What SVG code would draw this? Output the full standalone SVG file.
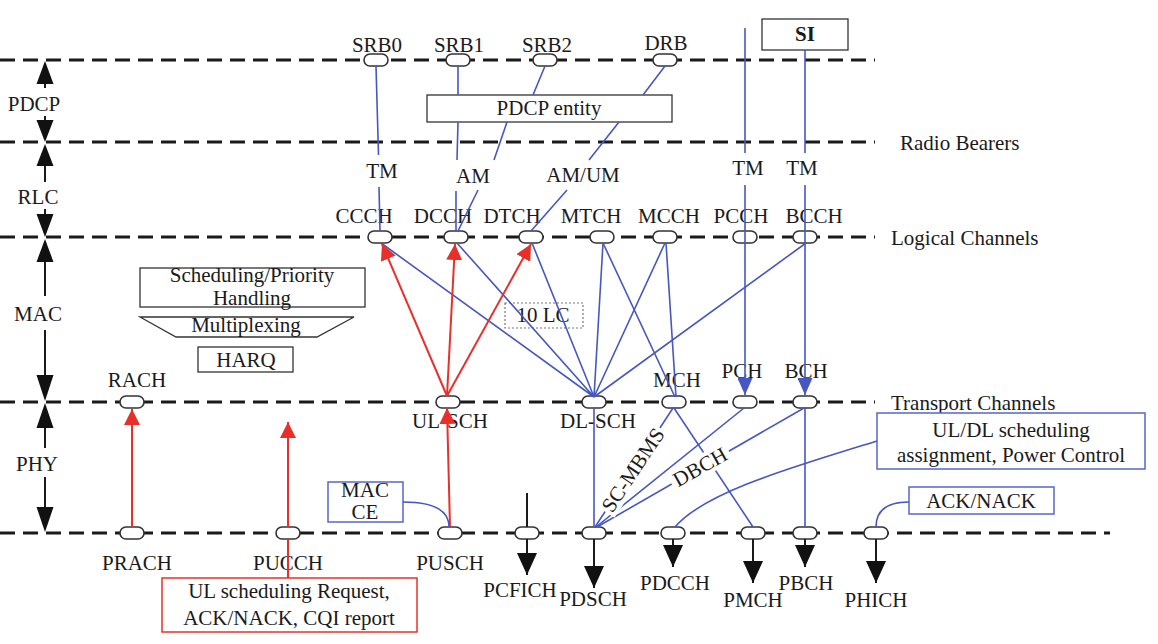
<svg xmlns="http://www.w3.org/2000/svg" width="1158" height="644" viewBox="0 0 1158 644">
<style>
text { font-family: "Liberation Serif", "Times New Roman", "DejaVu Serif", serif; font-size: 21px; fill: #1a1a1a; }
.c { text-anchor: middle; }
.lay { stroke: #1a1a1a; stroke-width: 3; stroke-dasharray: 15 8; fill: none; }
.pill { fill: #fff; stroke: #333; stroke-width: 1.6; }
.bl { stroke: #4657c0; stroke-width: 1.6; fill: none; }
.rd { stroke: #e8302a; stroke-width: 2; fill: none; }
.bk { stroke: #1a1a1a; stroke-width: 2; fill: none; }
.box { fill: #fff; stroke: #333; stroke-width: 1.3; }
.bbox { fill: #fff; stroke: #5566c8; stroke-width: 1.5; }
.rbox { fill: #fff; stroke: #e8302a; stroke-width: 1.5; }
.tri { fill: #111; }
</style>
<defs>
<marker id="mr" viewBox="0 0 16 16" refX="16" refY="8" markerWidth="16" markerHeight="16" orient="auto" markerUnits="userSpaceOnUse"><path d="M0,0 L16,8 L0,16 z" fill="#e8302a"/></marker>
<marker id="mb" viewBox="0 0 17 15" refX="17" refY="7.5" markerWidth="17" markerHeight="15" orient="auto" markerUnits="userSpaceOnUse"><path d="M0,0 L17,7.5 L0,15 z" fill="#4657c0"/></marker>
<marker id="mk" viewBox="0 0 22 20" refX="22" refY="10" markerWidth="22" markerHeight="20" orient="auto" markerUnits="userSpaceOnUse"><path d="M0,0 L22,10 L0,20 z" fill="#111"/></marker>
</defs>
<rect width="1158" height="644" fill="#fff"/>

<g id="layers">
<line class="lay" x1="0" y1="60" x2="875" y2="60"/>
<line class="lay" x1="0" y1="142" x2="875" y2="142"/>
<line class="lay" x1="0" y1="237" x2="875" y2="237"/>
<line class="lay" x1="0" y1="402" x2="875" y2="402"/>
<line class="lay" x1="0" y1="533" x2="1110" y2="533"/>
<text x="900" y="150">Radio Bearers</text>
<text x="891" y="245">Logical Channels</text>
<text x="891" y="410">Transport Channels</text>
</g>

<g id="layer-arrows">
<polygon class="tri" points="45,61 36.5,84 53.5,84"/><line class="bk" x1="45" y1="84" x2="45" y2="88"/>
<text class="c" x="34" y="111">PDCP</text>
<line class="bk" x1="45" y1="116" x2="45" y2="120"/><polygon class="tri" points="45,142 36.5,120 53.5,120"/>
<polygon class="tri" points="45,144 36.5,166 53.5,166"/><line class="bk" x1="45" y1="166" x2="45" y2="182"/>
<text class="c" x="38" y="204">RLC</text>
<line class="bk" x1="45" y1="209" x2="45" y2="214"/><polygon class="tri" points="45,237 36.5,214 53.5,214"/>
<polygon class="tri" points="45,239 36.5,262 53.5,262"/><line class="bk" x1="45" y1="262" x2="45" y2="296"/>
<text class="c" x="38" y="321">MAC</text>
<line class="bk" x1="45" y1="330" x2="45" y2="375"/><polygon class="tri" points="45,401 36.5,375 53.5,375"/>
<polygon class="tri" points="45,403 36.5,428 53.5,428"/><line class="bk" x1="45" y1="428" x2="45" y2="448"/>
<text class="c" x="37" y="471">PHY</text>
<line class="bk" x1="45" y1="477" x2="45" y2="507"/><polygon class="tri" points="45,532 36.5,507 53.5,507"/>
</g>

<g id="mac-functions">
<rect class="box" x="140" y="268" width="225" height="39"/>
<text class="c" x="252" y="282" font-size="19">Scheduling/Priority</text>
<text class="c" x="252" y="305" font-size="19">Handling</text>
<polygon class="box" points="140,317 354,317 317,337 176,337"/>
<text class="c" x="246" y="332">Multiplexing</text>
<rect class="box" x="198" y="347" width="95" height="25"/>
<text class="c" x="246" y="367">HARQ</text>
</g>

<g id="pdcp-entity">
<rect class="box" x="427" y="95" width="245" height="27"/>
<text class="c" x="549" y="115">PDCP entity</text>
</g>
<g id="si">
<rect class="box" x="762" y="19" width="86" height="31"/>
<text class="c" x="805" y="41" font-weight="bold">SI</text>
</g>
<g id="lc10">
<rect x="505" y="303" width="78" height="25" fill="none" stroke="#777" stroke-width="1.2" stroke-dasharray="2 2"/>
<text class="c" x="543" y="322">10 LC</text>
</g>

<g id="radio-bearers">
<g id="SRB0"><rect class="pill" x="364" y="54" width="24" height="12" rx="6"/><text class="c" x="377" y="52">SRB0</text></g>
<g id="SRB1"><rect class="pill" x="446" y="54" width="24" height="12" rx="6"/><text class="c" x="459" y="52">SRB1</text></g>
<g id="SRB2"><rect class="pill" x="533" y="54" width="24" height="12" rx="6"/><text class="c" x="547" y="52">SRB2</text></g>
<g id="DRB"><rect class="pill" x="653" y="54" width="24" height="12" rx="6"/><text class="c" x="666" y="50">DRB</text></g>
</g>

<g id="rlc-modes">
<text class="c" x="382" y="178">TM</text>
<text class="c" x="473" y="183">AM</text>
<text class="c" x="583" y="182">AM/UM</text>
<text class="c" x="748" y="175">TM</text>
<text class="c" x="802" y="175">TM</text>
</g>

<g id="logical-channels">
<g id="CCCH"><rect class="pill" x="368" y="231" width="24" height="12" rx="6"/><text class="c" x="364" y="223">CCCH</text></g>
<g id="DCCH"><rect class="pill" x="444" y="231" width="24" height="12" rx="6"/><text class="c" x="443" y="223">DCCH</text></g>
<g id="DTCH"><rect class="pill" x="519" y="231" width="24" height="12" rx="6"/><text class="c" x="512" y="223">DTCH</text></g>
<g id="MTCH"><rect class="pill" x="590" y="231" width="24" height="12" rx="6"/><text class="c" x="591" y="223">MTCH</text></g>
<g id="MCCH"><rect class="pill" x="653" y="231" width="24" height="12" rx="6"/><text class="c" x="669" y="223">MCCH</text></g>
<g id="PCCH"><rect class="pill" x="733" y="231" width="24" height="12" rx="6"/><text class="c" x="741" y="223">PCCH</text></g>
<g id="BCCH"><rect class="pill" x="793" y="231" width="24" height="12" rx="6"/><text class="c" x="814" y="223">BCCH</text></g>
</g>

<g id="transport-channels">
<g id="RACH"><rect class="pill" x="120" y="396" width="24" height="12" rx="6"/><text class="c" x="137" y="387">RACH</text></g>
<g id="UL-SCH"><rect class="pill" x="436" y="396" width="24" height="12" rx="6"/><text class="c" x="450" y="428">UL-SCH</text></g>
<g id="DL-SCH"><rect class="pill" x="582" y="396" width="24" height="12" rx="6"/><text class="c" x="598" y="428">DL-SCH</text></g>
<g id="MCH"><rect class="pill" x="662" y="396" width="24" height="12" rx="6"/><text class="c" x="677" y="387">MCH</text></g>
<g id="PCH"><rect class="pill" x="733" y="396" width="24" height="12" rx="6"/><text class="c" x="742" y="378">PCH</text></g>
<g id="BCH"><rect class="pill" x="793" y="396" width="24" height="12" rx="6"/><text class="c" x="806" y="378">BCH</text></g>
</g>

<g id="physical-channels">
<g id="PRACH"><rect class="pill" x="120" y="527" width="24" height="12" rx="6"/><text class="c" x="137" y="570">PRACH</text></g>
<g id="PUCCH"><rect class="pill" x="276" y="527" width="24" height="12" rx="6"/><text class="c" x="288" y="570">PUCCH</text></g>
<g id="PUSCH"><rect class="pill" x="438" y="527" width="24" height="12" rx="6"/><text class="c" x="450" y="570">PUSCH</text></g>
<g id="PCFICH"><rect class="pill" x="515" y="527" width="24" height="12" rx="6"/><text class="c" x="520" y="597">PCFICH</text></g>
<g id="PDSCH"><rect class="pill" x="582" y="527" width="24" height="12" rx="6"/><text class="c" x="593" y="606">PDSCH</text></g>
<g id="PDCCH"><rect class="pill" x="661" y="527" width="24" height="12" rx="6"/><text class="c" x="675" y="590">PDCCH</text></g>
<g id="PMCH"><rect class="pill" x="741" y="527" width="24" height="12" rx="6"/><text class="c" x="753" y="607">PMCH</text></g>
<g id="PBCH"><rect class="pill" x="793" y="527" width="24" height="12" rx="6"/><text class="c" x="806" y="590">PBCH</text></g>
<g id="PHICH"><rect class="pill" x="864" y="527" width="24" height="12" rx="6"/><text class="c" x="876" y="607">PHICH</text></g>
</g>

<g id="annotations">
<g id="mac-ce"><rect class="bbox" x="328" y="482" width="75" height="40"/><text class="c" x="365" y="497" font-size="18">MAC</text><text class="c" x="365" y="519" font-size="18">CE</text></g>
<g id="ul-dl-sched"><rect class="bbox" x="877" y="413" width="268" height="56"/><text class="c" x="1011" y="437">UL/DL scheduling</text><text class="c" x="1011" y="462">assignment, Power Control</text></g>
<g id="ack-nack"><rect class="bbox" x="909" y="487" width="145" height="27"/><text class="c" x="981" y="508">ACK/NACK</text></g>
<g id="ul-report"><rect class="rbox" x="162" y="578" width="255" height="54"/><text class="c" x="289" y="598" font-size="20">UL scheduling Request,</text><text class="c" x="289" y="625" font-size="20">ACK/NACK, CQI report</text></g>
</g>

<g id="connectors">
<path class="bl" d="M376,66 L378.5,155 M379,187 L380,231"/>
<path class="bl" d="M458,66 L458,95 M458,122 L457,160 M456,191 L456,231"/>
<path class="bl" d="M545,66 L533,95 M507,122 L494,160 M478,190 L458,231"/>
<path class="bl" d="M665,66 L643,95 M619,122 L589,160 M567,190 L531,231"/>
<path class="bl" d="M745,28 L745,153"/>
<path class="bl" d="M745,185 L745,395" marker-end="url(#mb)"/>
<path class="bl" d="M805,50 L805,153"/>
<path class="bl" d="M805,185 L805,395" marker-end="url(#mb)"/>
<path class="bl" d="M594,397 L381,243 M594,397 L457,243 M594,397 L532,243 M594,397 L603,243 M594,397 L665,243 M594,397 L806,243"/>
<path class="bl" d="M603,243 L675,397 M666,243 L676,397"/>
<path class="rd" d="M447,396 L382,244" marker-end="url(#mr)"/>
<path class="rd" d="M447,396 L455,244" marker-end="url(#mr)"/>
<path class="rd" d="M447,396 L531,244" marker-end="url(#mr)"/>
<path class="rd" d="M450,527 L447,408" marker-end="url(#mr)"/>
<path class="rd" d="M132,527 L132,409" marker-end="url(#mr)"/>
<path class="rd" d="M288,527 L288,422" marker-end="url(#mr)"/>
<path class="rd" d="M288,539 L288,578"/>
<path class="bl" d="M594,408 L594,527"/>
<path class="bl" d="M744,408 L596,527"/>
<path class="bl" d="M674,408 L753,527"/>
<path class="bl" d="M805,408 L805,527"/>
<path class="bl" d="M673,408 L595,527"/>
<path class="bl" d="M804,408 L597,527"/>
<path class="bl" d="M877,441 C790,468 705,492 675,527"/>
<path class="bl" d="M909,502 Q876,502 876,527"/>
<path class="bl" d="M403,502 Q449,502 449,527"/>
<path class="bk" d="M527,493 L527,527"/>
<path class="bk" d="M527,539 L527,575" marker-end="url(#mk)"/>
<path class="bk" d="M594,539 L594,588" marker-end="url(#mk)"/>
<path class="bk" d="M673,539 L673,567" marker-end="url(#mk)"/>
<path class="bk" d="M753,539 L753,583" marker-end="url(#mk)"/>
<path class="bk" d="M805,539 L805,567" marker-end="url(#mk)"/>
<path class="bk" d="M876,539 L876,583" marker-end="url(#mk)"/>
<g transform="translate(633,470) rotate(-56.3)"><rect x="-50" y="-11" width="100" height="22" fill="#fff"/><text class="c" x="0" y="7">SC-MBMS</text></g>
<g transform="translate(700,467) rotate(-29.5)"><rect x="-33" y="-11" width="66" height="22" fill="#fff"/><text class="c" x="0" y="7">DBCH</text></g>
</g>
</svg>
